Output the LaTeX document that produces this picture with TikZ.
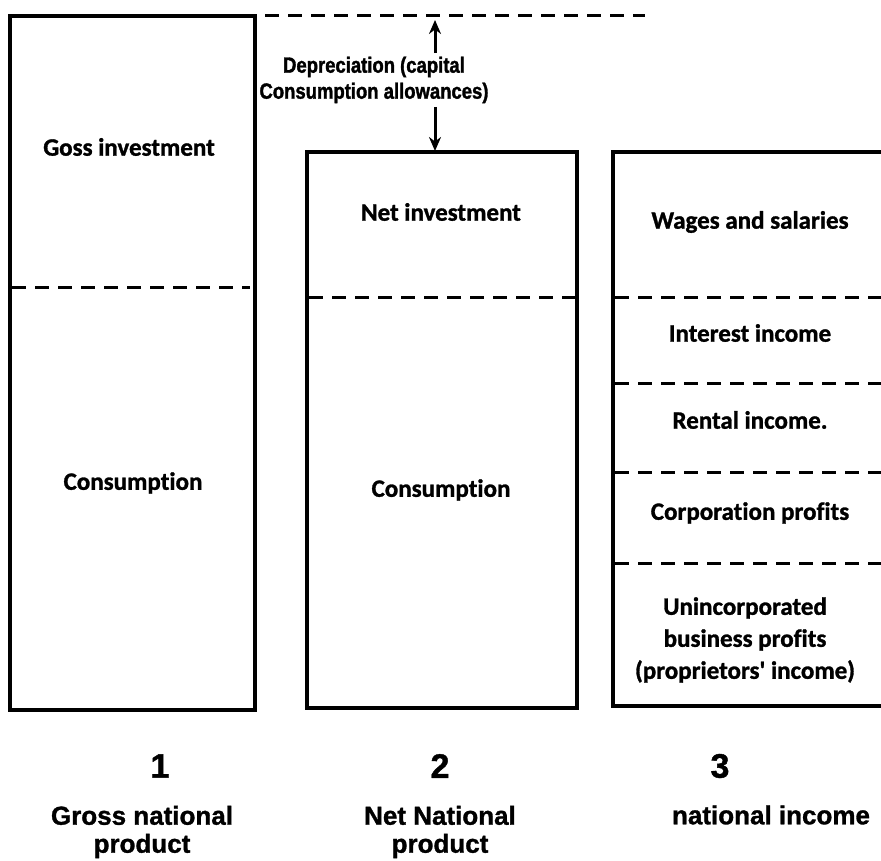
\documentclass[tikz,border=0pt]{standalone}
\usepackage{fontspec}
\setmainfont[Ligatures={TeX,NoCommon},FakeBold=1.2]{Carlito}
\newfontfamily\arialf[FakeBold=1.2]{Liberation Sans}
\newfontfamily\depf[FakeStretch=0.84,FakeBold=1.5]{Liberation Sans}
\usetikzlibrary{arrows.meta}
\begin{document}
\begin{tikzpicture}[x=1pt,y=-1pt,
  boxline/.style={line width=3.2pt},
  divline/.style={line width=3pt, dash pattern=on 14pt off 9pt},
  boxtext/.style={font=\fontsize{25}{32}\selectfont\bfseries, align=center},
  labtext/.style={font=\arialf\fontsize{26}{28}\selectfont\bfseries, align=center},
  numtext/.style={font=\arialf\fontsize{34}{36}\selectfont\bfseries},
  deptext/.style={font=\depf\fontsize{22}{26}\selectfont\bfseries, align=center},
  arr/.style={line width=3pt, -{Stealth[length=14pt,width=12pt]}}]
\useasboundingbox (0,0) rectangle (881,861);
% boxes
\draw[boxline] (10,16) rectangle (255,710);
\draw[boxline] (307,152) rectangle (577,708);
\draw[boxline] (890,152) -- (613,152) -- (613,706) -- (890,706);
% dividers
\draw[divline] (12,287) -- (250,287);
\draw[divline] (309,297) -- (577,297);
\draw[divline] (615,297) -- (881,297);
\draw[divline] (615,383) -- (881,383);
\draw[divline] (615,472) -- (881,472);
\draw[divline] (615,563) -- (881,563);
\draw[divline] (265,16) -- (645,16);
% depreciation
\node[deptext] (dep) at (374,80) {Depreciation (capital\\Consumption allowances)};
\coordinate (topline) at (435,20);
\coordinate (box2top) at (435,151);
\draw[arr] (dep.north -| topline) -- (topline);
\draw[arr] (dep.south -| box2top) -- (box2top);
% texts
\node[boxtext] (gi) at (129,147) {Goss investment};
\node[boxtext] (c1) at (133,483) {Consumption};
\node[boxtext] (ni) at (441,212) {Net investment};
\node[boxtext] (c2) at (441,490) {Consumption};
\node[boxtext] (ws) at (750,222) {Wages and salaries};
\node[boxtext] (ii) at (750,333) {Interest income};
\node[boxtext] (ri) at (750,420) {Rental income.};
\node[boxtext] (cp) at (750,513) {Corporation profits};
\node[boxtext] (ub) at (745,640) {Unincorporated\\business profits\\(proprietors\textquotesingle{} income)};
% bottom
\node[numtext] (n1) at (160,766) {1};
\node[numtext] (n2) at (440,766) {2};
\node[numtext] (n3) at (720,766) {3};
\node[labtext] (l1) at (142,832) {Gross national\\product};
\node[labtext] (l2) at (440,832) {Net National\\product};
\node[labtext] (l3) at (771,815) {national income};
\end{tikzpicture}
\end{document}
